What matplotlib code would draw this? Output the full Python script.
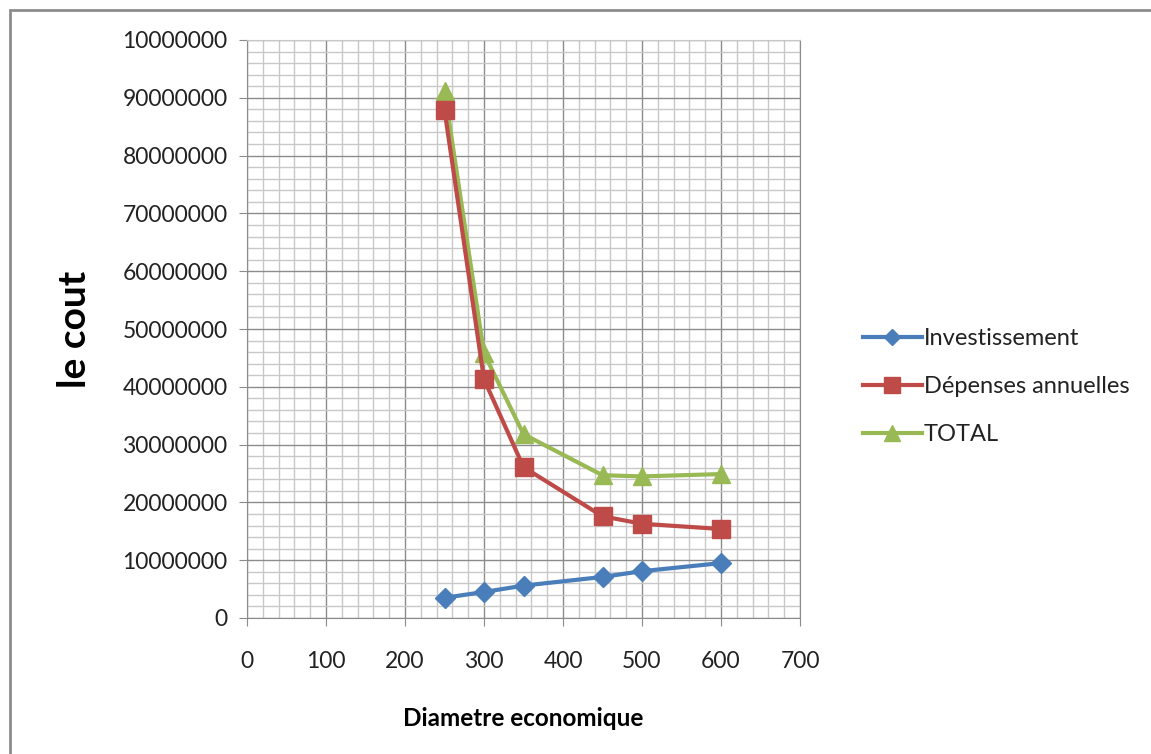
import matplotlib
matplotlib.use("Agg")
import matplotlib.pyplot as plt
from matplotlib.patches import Rectangle
from matplotlib.ticker import MultipleLocator

# data
diametre = [250, 300, 350, 450, 500, 600]
investissement = [3.5e6, 4.5e6, 5.6e6, 7.1e6, 8.1e6, 9.5e6]
depenses = [87.9e6, 41.3e6, 26.1e6, 17.6e6, 16.3e6, 15.4e6]
total = [91.2e6, 45.8e6, 31.8e6, 24.7e6, 24.5e6, 24.9e6]
# y tick labels as printed on the original (the top one is shown truncated)
y_ticks = [0, 1e7, 2e7, 3e7, 4e7, 5e7, 6e7, 7e7, 8e7, 9e7, 1e8]
y_labels = ['0', '10000000', '20000000', '30000000', '40000000', '50000000',
            '60000000', '70000000', '80000000', '90000000', '10000000']

plt.rcParams['font.family'] = ['Lato', 'DejaVu Sans']

fig = plt.figure(figsize=(11.51, 7.54), dpi=100)
#outer frame of the chart area
fig.patches.append(Rectangle((10 / 1151, -0.05), 1.2, 1 - 10 / 754 + 0.05,
                             transform=fig.transFigure, fill=False,
                             edgecolor='#8c8c8c', linewidth=2))
ax = fig.add_axes([247 / 1151, 1 - 618 / 754, 553 / 1151, 578 / 754])

ax.plot(diametre, investissement, '-D', color='#4A7EBB', lw=3, ms=10,
        label='Investissement', zorder=5)
ax.plot(diametre, depenses, '-s', color='#BE4B48', lw=3, ms=13,
        label='Dépenses annuelles', zorder=4)
ax.plot(diametre, total, '-^', color='#98B954', lw=3, ms=13,
        label='TOTAL', zorder=3)

ax.set_xlim(0, 700)
ax.set_ylim(0, 1e8)
ax.xaxis.set_major_locator(MultipleLocator(100))
ax.xaxis.set_minor_locator(MultipleLocator(20))
ax.set_yticks(y_ticks)
ax.set_yticklabels(y_labels)
ax.yaxis.set_minor_locator(MultipleLocator(2e6))
ax.grid(which='major', color='#8c8c8c', lw=1.0)
ax.grid(which='minor', color='#c8c8c8', lw=1.0)
ax.set_axisbelow(True)
for s in ax.spines.values():
    s.set_color('#8c8c8c')
ax.spines['top'].set_color('#c8c8c8')
ax.tick_params(which='major', direction='out', length=6, color='#8c8c8c',
               labelsize=16.5, labelcolor='#222222')
ax.tick_params(axis='y', pad=8)
ax.tick_params(axis='x', pad=18)
ax.tick_params(which='minor', length=0)

ax.set_ylabel('le cout', fontsize=28, fontweight='bold', labelpad=22)
ax.set_xlabel('Diametre economique', fontsize=17.5, fontweight='bold', labelpad=25)

ax.legend(loc='center left', bbox_to_anchor=(1.075, 0.40), frameon=False,
          fontsize=17, handlelength=2.5, handletextpad=0.1, labelspacing=1.15,
          labelcolor='#222222', markerscale=0.85)

fig.savefig('out.png', dpi=100)
